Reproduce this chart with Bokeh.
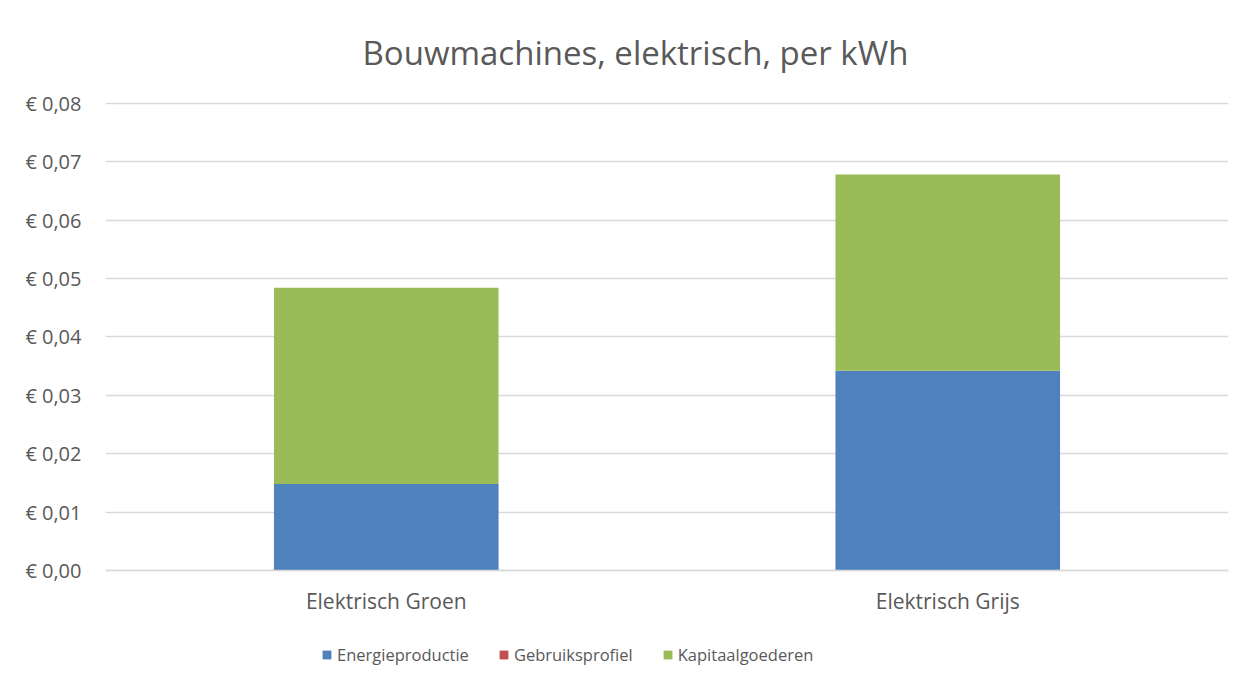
from bokeh.plotting import figure
from bokeh.models import ColumnDataSource, FactorRange, Range1d, FixedTicker, CustomJSTickFormatter, Legend, Title
from bokeh.embed import file_html
from bokeh.resources import INLINE

categories = ["Elektrisch Groen", "Elektrisch Grijs"]
series_names = ["Energieproductie", "Gebruiksprofiel", "Kapitaalgoederen"]
energieproductie = [0.0148, 0.0342]
gebruiksprofiel = [0.0, 0.0]
kapitaalgoederen = [0.0336, 0.0336]
y_ticks = [0.0, 0.01, 0.02, 0.03, 0.04, 0.05, 0.06, 0.07, 0.08]
colors = ["#4f81bd", "#c0504d", "#9bbb59"]
title_text = "Bouwmachines, elektrisch, per kWh"

FONT = "Open Sans"
GREY = "#595959"

source = ColumnDataSource(dict(
    cat=categories,
    Energieproductie=energieproductie,
    Gebruiksprofiel=gebruiksprofiel,
    Kapitaalgoederen=kapitaalgoederen,
))

p = figure(
    width=1250, height=686,
    x_range=FactorRange(*categories, range_padding=0),
    y_range=Range1d(-0.01918, 0.08014),
    output_backend="svg", toolbar_location=None,
    min_border_left=105, min_border_right=22, min_border_top=102, min_border_bottom=4,
)
p.outline_line_color = None
p.background_fill_color = "white"
p.border_fill_color = "white"

renderers = p.vbar_stack(series_names, x="cat", width=0.4, source=source,
                         color=colors, line_color=None)

t = Title(text=title_text, text_font=FONT, text_font_size="33px",
          text_color=GREY, text_font_style="normal", align="left", offset=257,
          vertical_align="top", standoff=52)
p.add_layout(t, "above")

p.yaxis.ticker = FixedTicker(ticks=y_ticks)
p.yaxis.formatter = CustomJSTickFormatter(code='return "€ " + tick.toFixed(2).replace(".", ",");')
p.yaxis.axis_line_color = None
p.yaxis.major_tick_line_color = None
p.yaxis.minor_tick_line_color = None
p.yaxis.major_label_text_font = FONT
p.yaxis.major_label_text_font_size = "20px"
p.yaxis.major_label_text_color = GREY
p.yaxis.major_label_standoff = 18

p.xaxis.fixed_location = 0
p.xaxis.axis_line_color = "#d9d9d9"
p.xaxis.axis_line_width = 1.3
p.xaxis.major_tick_line_color = None
p.xaxis.minor_tick_line_color = None
p.xaxis.major_label_text_font = FONT
p.xaxis.major_label_text_font_size = "21px"
p.xaxis.major_label_text_color = GREY
p.xaxis.major_label_standoff = 11

p.xgrid.grid_line_color = None
p.ygrid.grid_line_color = "#d9d9d9"
p.ygrid.grid_line_width = 1.3
p.ygrid.ticker = FixedTicker(ticks=y_ticks)

legend = Legend(items=[(n, [r]) for n, r in zip(series_names, renderers)],
                orientation="horizontal", location=(216, 16),
                label_text_font=FONT, label_text_font_size="16.5px", label_text_color=GREY,
                glyph_width=11, glyph_height=11, label_standoff=5, spacing=29,
                border_line_color=None, background_fill_alpha=0, margin=0, padding=0)
p.add_layout(legend, "center")

open("out.html", "w").write(file_html(p, INLINE))
